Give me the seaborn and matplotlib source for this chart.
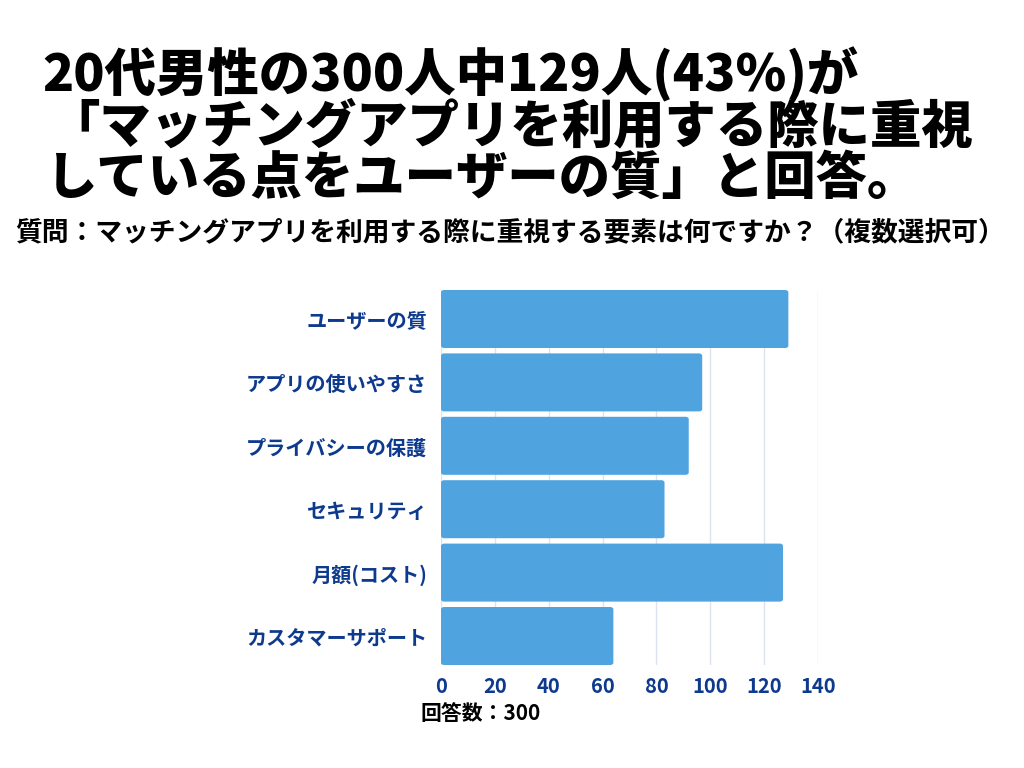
import numpy as np
import pandas as pd
import seaborn as sns
import matplotlib.pyplot as plt
from matplotlib.patches import FancyBboxPatch

categories = ["ユーザーの質", "アプリの使いやすさ", "プライバシーの保護",
              "セキュリティ", "月額(コスト)", "カスタマーサポート"]
counts = [129, 97, 92, 83, 127, 64]
x_ticks = [0, 20, 40, 60, 80, 100, 120, 140]

title_lines = ["20代男性の300人中129人(43%)が",
               "「マッチングアプリを利用する際に重視",
               "している点をユーザーの質」と回答。"]
subtitle = "質問：マッチングアプリを利用する際に重視する要素は何ですか？（複数選択可）"
note = "回答数：300"

data = pd.DataFrame({"item": categories, "count": counts})

sns.set_theme(style="white")
plt.rcParams['font.family'] = ['Noto Sans CJK JP', 'DejaVu Sans']

bar_color = "#4FA3DF"
label_color = "#0E3A8E"
bar_w = 0.915

fig = plt.figure(figsize=(10.24, 7.68), dpi=100)
ax = fig.add_axes([0.4307, 0.1341, 0.3681, 0.4883])

sns.barplot(x="count", y="item", data=data, color=bar_color,
            width=bar_w, saturation=1, ax=ax)

# rounded bar ends
for p in list(ax.patches):
    x0, y0 = p.get_x(), p.get_y()
    w, h = p.get_width(), p.get_height()
    p.remove()
    ax.add_patch(FancyBboxPatch((x0, y0), w, h,
                                boxstyle="round,pad=0,rounding_size=1.2",
                                mutation_aspect=0.03,
                                facecolor=bar_color, edgecolor="none", zorder=2))

ax.set_xlim(0, 140)
ax.set_ylim(len(categories) - 1 + bar_w / 2, -bar_w / 2)
ax.set_xticks(x_ticks)
ax.xaxis.grid(True, color="#DDE3EE", linewidth=1)
ax.set_axisbelow(True)
for s in ax.spines.values():
    s.set_visible(False)
ax.tick_params(axis="y", length=0, pad=10)
ax.tick_params(axis="x", length=0, pad=8)
ax.set_xlabel("")
ax.set_ylabel("")
for lbl in ax.get_xticklabels() + ax.get_yticklabels():
    lbl.set_color(label_color)
    lbl.set_fontweight("bold")
    lbl.set_fontsize(14.5)

# title
for i, line in enumerate(title_lines):
    x = 42 if i == 0 else (48 if i == 1 else 45)
    fig.text(x / 1024, 1 - (75 + i * 52) / 768, line, fontsize=37,
             fontweight="black", color="black", va="center", ha="left")

fig.text(15 / 1024, 1 - 232 / 768, subtitle, fontsize=19.3,
         fontweight="bold", color="black", va="center", ha="left")
fig.text(420 / 1024, 1 - 714 / 768, note, fontsize=15,
         fontweight="bold", color="black", va="center", ha="left")

fig.savefig("out.png", dpi=100, facecolor="white")
